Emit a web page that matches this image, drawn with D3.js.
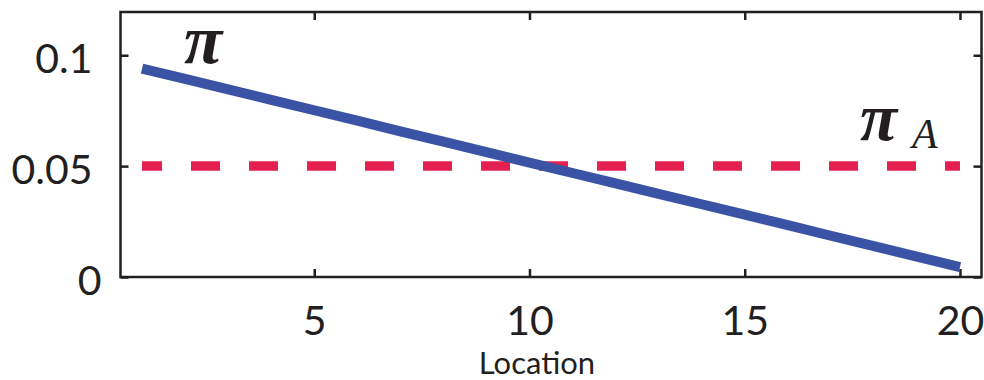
<!DOCTYPE html>
<html>
<head>
<meta charset="utf-8">
<script src="https://cdn.jsdelivr.net/npm/d3@7"></script>
<style>
  body { margin: 0; background: #fff; }
  text { fill: #231f20; }
</style>
</head>
<body>
<div class="chart"></div>
<script>
// data
var locations = [1, 2, 3, 4, 5, 6, 7, 8, 9, 10, 11, 12, 13, 14, 15, 16, 17, 18, 19, 20];
var piValues = [0.094, 0.0893, 0.0846, 0.0799, 0.0752, 0.0705, 0.0657, 0.0610, 0.0563, 0.0516,
                0.0469, 0.0422, 0.0375, 0.0328, 0.0281, 0.0234, 0.0186, 0.0139, 0.0092, 0.0045];
var piAValues = [0.05, 0.05, 0.05, 0.05, 0.05, 0.05, 0.05, 0.05, 0.05, 0.05,
                 0.05, 0.05, 0.05, 0.05, 0.05, 0.05, 0.05, 0.05, 0.05, 0.05];
var xTicks = [5, 10, 15, 20];
var yTicks = [0, 0.05, 0.1];
var yTickLabels = ["0", "0.05", "0.1"];

var svgWidth = 984;
var svgHeight = 380;

var margin = { top: 12, right: 2.5, bottom: 103, left: 120.5 };
var width = svgWidth - margin.left - margin.right;
var height = svgHeight - margin.top - margin.bottom;

var svg = d3.select(".chart")
    .append("svg")
    .attr("width", svgWidth)
    .attr("height", svgHeight);

var chartGroup = svg.append("g")
    .attr("transform", `translate(${margin.left}, ${margin.top})`);

var xScale = d3.scaleLinear()
    .domain([0.5, 20.5])
    .range([0, width]);

var yScale = d3.scaleLinear()
    .domain([0, 0.1195])
    .range([height, 0]);

// axes, ticks pointing inward, mirrored on top/right
var bottomAxis = d3.axisBottom(xScale).tickValues(xTicks).tickSize(-8).tickSizeOuter(0).tickPadding(29);
var topAxis = d3.axisTop(xScale).tickValues(xTicks).tickSize(-8).tickSizeOuter(0).tickFormat("");
var leftAxis = d3.axisLeft(yScale).tickValues(yTicks).tickSize(-8).tickSizeOuter(0).tickPadding(28)
    .tickFormat((d, i) => yTickLabels[i]);
var rightAxis = d3.axisRight(yScale).tickValues(yTicks).tickSize(-8).tickSizeOuter(0).tickFormat("");

var gx = chartGroup.append("g").attr("transform", `translate(0, ${height})`).call(bottomAxis);
chartGroup.append("g").call(topAxis);
var gy = chartGroup.append("g").call(leftAxis);
chartGroup.append("g").attr("transform", `translate(${width}, 0)`).call(rightAxis);

chartGroup.selectAll(".domain").remove();
chartGroup.selectAll(".tick line").attr("stroke", "#231f20").attr("stroke-width", 2.5);
chartGroup.selectAll(".tick text")
    .style("font-family", "Lato, sans-serif")
    .style("font-size", "41px")
    .attr("fill", "#231f20");
gx.selectAll(".tick text").attr("dy", "0.70em");
gy.selectAll(".tick text")
    .attr("dy", "0.42em")
    .attr("dx", d => d === 0 ? 9 : 0);

// box
chartGroup.append("rect")
    .attr("x", 0).attr("y", 0)
    .attr("width", width).attr("height", height)
    .attr("fill", "none")
    .attr("stroke", "#231f20")
    .attr("stroke-width", 2.5);

// lines
var line = d3.line()
    .x((d, i) => xScale(locations[i]))
    .y(d => yScale(d));

chartGroup.append("path")
    .datum(piAValues)
    .attr("d", line)
    .attr("fill", "none")
    .attr("stroke", "#e3204f")
    .attr("stroke-width", 9.5)
    .attr("stroke-dasharray", "29,29")
    .attr("stroke-dashoffset", 9);

chartGroup.append("path")
    .datum(piValues)
    .attr("d", line)
    .attr("fill", "none")
    .attr("stroke", "#3a53a4")
    .attr("stroke-width", 10);

// labels
svg.append("text")
    .attr("x", 184)
    .attr("y", 63)
    .style("font-family", "'Liberation Serif', serif")
    .style("font-weight", "bold")
    .style("font-style", "italic")
    .style("font-size", "70px")
    .text("π");

var piA = svg.append("text")
    .attr("x", 860)
    .attr("y", 140)
    .style("font-family", "'Liberation Serif', serif")
    .style("font-weight", "bold")
    .style("font-style", "italic")
    .style("font-size", "68px");
piA.append("tspan").text("π");
piA.append("tspan")
    .attr("x", 912)
    .attr("y", 148)
    .style("font-weight", "normal")
    .style("font-size", "42px")
    .text("A");

svg.append("text")
    .attr("x", 537)
    .attr("y", 374)
    .attr("text-anchor", "middle")
    .style("font-family", "Lato, sans-serif")
    .style("font-size", "31px")
    .text("Location");
</script>
</body>
</html>
